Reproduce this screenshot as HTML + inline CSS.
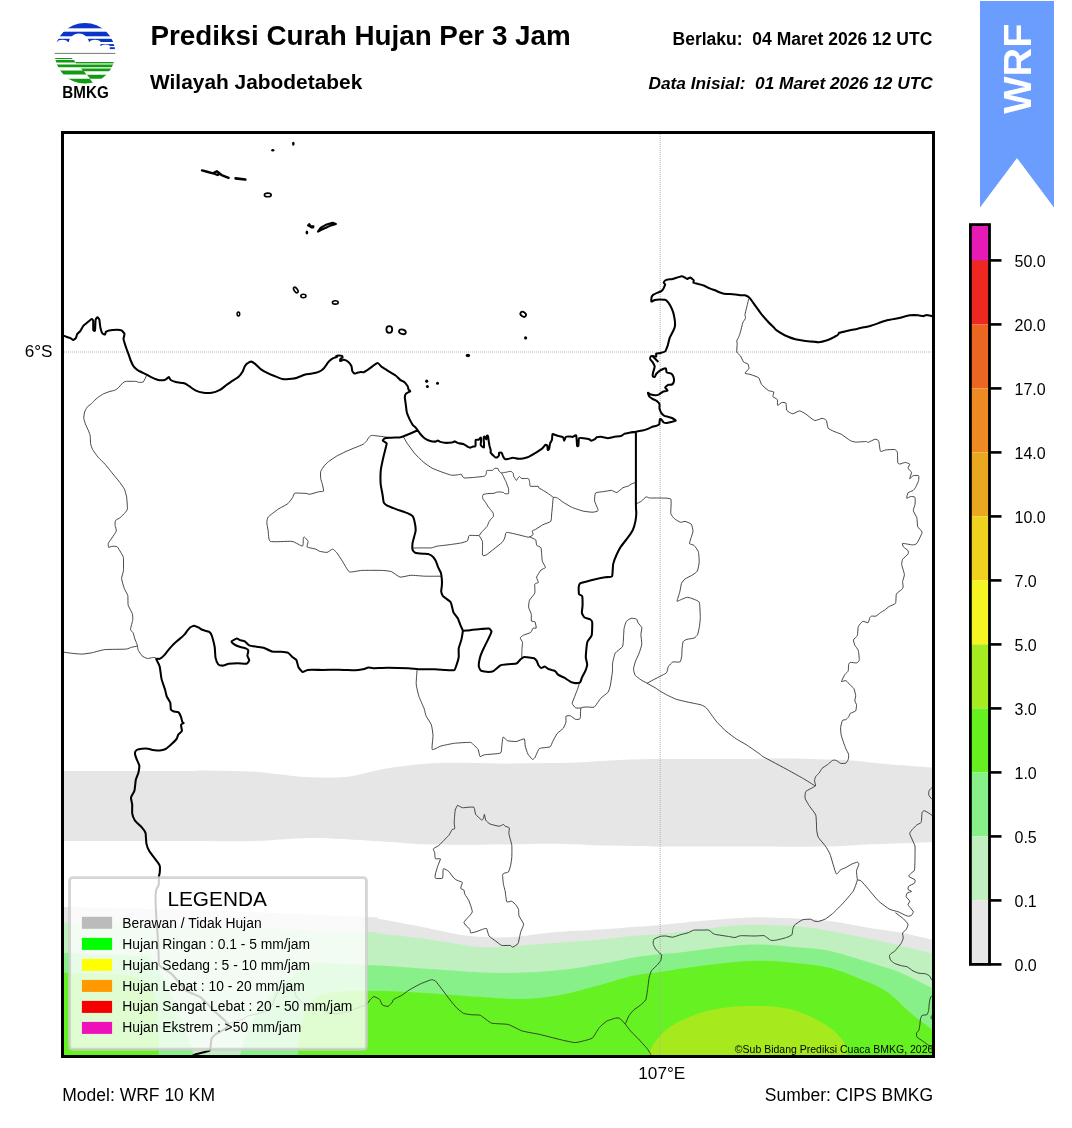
<!DOCTYPE html>
<html><head><meta charset="utf-8"><style>
html,body{margin:0;padding:0;background:#fff;width:1072px;height:1128px;overflow:hidden}
svg{display:block;position:absolute;left:0;top:0;will-change:transform}
text{font-family:"Liberation Sans",sans-serif}
</style></head><body>
<svg width="1072" height="1128" viewBox="0 0 1072 1128">
<defs>
<clipPath id="mc"><rect x="64" y="134" width="868" height="921"/></clipPath>
<clipPath id="lc"><circle cx="85" cy="53.2" r="30.3"/></clipPath>
</defs>

<!-- header -->
<g clip-path="url(#lc)">
<rect x="50" y="20" width="70" height="70" fill="#fff"/>
<g fill="#0a35c8">
<rect x="50" y="20" width="70" height="8.3"/>
<rect x="50" y="31.7" width="70" height="4.6"/>
<rect x="50" y="38.8" width="70" height="3.2"/>
</g>
<g fill="#fff">
<path d="M68.5 42.5 Q71 33.6 79 33.6 Q86.5 33.6 89.3 42.5 Z"/>
<rect x="50" y="42" width="70" height="11"/>
<ellipse cx="62.5" cy="42.3" rx="5.2" ry="2.6"/>
<ellipse cx="95" cy="42.3" rx="5.6" ry="2.6"/>
</g>
<g fill="#0a35c8">
<rect x="100.5" y="44.1" width="20" height="1.9"/>
<rect x="109.8" y="47.2" width="10" height="1.9"/>
</g>
<ellipse cx="105.5" cy="46.4" rx="4.3" ry="1.9" fill="#fff"/>
<rect x="50" y="52.9" width="70" height="1" fill="#777"/>
<g fill="#139a13">
<path d="M50 57.9H71.5L72.6 59.1H50Z"/>
<path d="M50 60.1H73.8L75.8 62.5H50Z"/>
<path d="M75.2 61.9H120V63.3H76.4Z"/>
<path d="M50 64.5H120V67.3H50Z"/>
<path d="M81 68.5H120V71.3H83.4Z"/>
<path d="M50 70.4H83.2L86.6 74.6H50Z"/>
<path d="M86.9 74.7H120V78.7H90.3Z"/>
<path d="M50 78.7H89.8L94.2 84.5H50Z"/>
</g>
<rect x="76" y="63.3" width="40" height="1.1" fill="#8fd08f"/>
</g>
<text x="62.3" y="97.8" font-size="16.4" font-weight="bold" textLength="46.4" lengthAdjust="spacingAndGlyphs">BMKG</text>

<text x="150.5" y="44.8" font-size="27.8" font-weight="bold">Prediksi Curah Hujan Per 3 Jam</text>
<text x="150" y="88.9" font-size="20.9" font-weight="bold">Wilayah Jabodetabek</text>
<text x="932.3" y="44.5" font-size="17.5" font-weight="bold" text-anchor="end" xml:space="preserve">Berlaku:  04 Maret 2026 12 UTC</text>
<text x="932.8" y="88.8" font-size="17.3" font-weight="bold" font-style="italic" text-anchor="end" xml:space="preserve">Data Inisial:  01 Maret 2026 12 UTC</text>

<!-- ribbon -->
<path d="M980 1 H1054 V207.5 L1017 158 L980 207.5 Z" fill="#6a9dfe"/>
<text transform="translate(1031 113.8) rotate(-90)" font-size="39.6" font-weight="bold" fill="#fff">WRF</text>

<!-- map -->
<g clip-path="url(#mc)">
<path fill="#e6e6e6" d="M58.0 771.0C78.3 771.0 155.7 771.1 180.0 771.0C204.3 770.9 191.8 770.3 204.0 770.4C216.2 770.5 240.8 771.0 253.0 771.6C265.2 772.2 268.2 773.1 277.0 774.0C285.8 774.9 294.7 776.5 306.0 777.0C317.3 777.5 333.7 778.0 345.0 777.0C356.3 776.0 365.2 772.7 374.0 771.0C382.8 769.3 387.0 768.0 398.0 766.7C409.0 765.4 423.0 763.5 440.0 763.0C457.0 762.5 478.3 763.4 500.0 763.4C521.7 763.4 552.5 763.1 570.0 762.7C587.5 762.3 592.7 761.4 605.0 760.8C617.3 760.2 620.8 759.5 644.0 759.2C667.2 758.9 720.0 759.1 744.0 759.0C768.0 758.9 770.3 758.4 788.0 758.6C805.7 758.8 833.7 759.5 850.0 760.4C866.3 761.3 871.3 762.7 886.0 764.0C900.7 765.3 929.3 767.3 938.0 768.0L938.0 842.0C926.3 842.4 887.0 843.6 868.0 844.4C849.0 845.2 843.0 846.2 824.0 846.6C805.0 847.0 781.6 846.5 754.0 846.5C726.4 846.5 683.2 846.6 658.5 846.5C633.8 846.4 623.4 846.1 606.0 845.6C588.6 845.1 571.7 843.9 554.0 843.7C536.3 843.5 520.7 844.5 500.0 844.6C479.3 844.8 450.0 845.2 430.0 844.6C410.0 844.0 396.7 842.3 380.0 841.3C363.3 840.3 343.3 839.0 330.0 838.5C316.7 838.0 312.7 837.9 300.0 838.3C287.3 838.7 274.0 840.5 254.0 841.0C234.0 841.5 212.7 841.0 180.0 841.0C147.3 841.0 78.3 841.0 58.0 841.0Z"/>
<path fill="#e6e6e6" d="M58.0 907.0C73.3 907.3 118.0 908.2 150.0 909.0C182.0 909.8 213.7 910.7 250.0 912.0C286.3 913.3 346.3 915.8 368.0 917.0C389.7 918.2 371.0 917.4 380.0 919.0C389.0 920.6 408.0 924.2 422.0 926.9C436.0 929.6 452.7 933.6 464.0 935.3C475.3 937.0 481.7 936.9 490.0 937.2C498.3 937.5 503.3 937.8 514.0 937.0C524.7 936.2 539.7 933.5 554.0 932.3C568.3 931.0 586.7 930.4 600.0 929.5C613.3 928.6 624.2 927.7 634.0 927.0C643.8 926.3 647.5 926.2 658.5 925.2C669.5 924.2 684.8 922.3 700.0 921.0C715.2 919.7 735.0 917.9 750.0 917.4C765.0 916.9 776.7 917.7 790.0 918.3C803.3 918.9 817.0 919.4 830.0 921.0C843.0 922.6 856.3 925.8 868.0 927.7C879.7 929.6 888.3 930.3 900.0 932.5C911.7 934.7 931.7 939.6 938.0 941.0L938.0 1062.0L58.0 1062.0Z"/>
<path fill="#c0f0c0" d="M58.0 922.5C73.3 922.9 118.0 924.1 150.0 925.0C182.0 925.9 213.7 926.8 250.0 928.0C286.3 929.2 346.3 931.1 368.0 932.0C389.7 932.9 369.7 932.4 380.0 933.6C390.3 934.9 413.2 937.3 430.0 939.5C446.8 941.7 465.2 946.0 480.7 947.0C496.1 948.0 510.5 946.0 522.7 945.4C534.9 944.8 541.1 944.1 554.0 943.1C566.9 942.1 586.7 940.7 600.0 939.5C613.3 938.3 624.2 936.7 634.0 935.8C643.8 934.9 647.5 935.2 658.5 934.2C669.5 933.2 685.8 931.0 700.0 929.5C714.2 928.0 727.8 925.6 744.0 925.1C760.2 924.6 782.7 925.3 797.0 926.3C811.3 927.3 818.2 929.0 830.0 931.0C841.8 933.0 856.3 936.0 868.0 938.4C879.7 940.8 888.3 942.7 900.0 945.5C911.7 948.3 931.7 953.4 938.0 955.0L938.0 1062.0L58.0 1062.0Z"/>
<path fill="#88f088" d="M58.0 952.5C73.3 953.1 118.0 954.8 150.0 956.0C182.0 957.2 213.7 958.5 250.0 960.0C286.3 961.5 338.0 963.5 368.0 965.0C398.0 966.5 408.0 967.7 430.0 969.0C452.0 970.3 478.3 972.8 500.0 973.0C521.7 973.2 543.3 971.5 560.0 970.0C576.7 968.5 587.7 966.1 600.0 964.0C612.3 961.9 624.0 959.1 634.0 957.4C644.0 955.7 651.6 954.9 660.0 954.0C668.4 953.1 669.6 953.5 684.6 951.9C699.6 950.3 731.3 945.4 750.0 944.6C768.7 943.8 783.7 946.1 797.0 947.2C810.3 948.3 816.8 948.1 830.0 951.0C843.2 953.9 864.3 961.0 876.0 964.6C887.7 968.2 889.7 968.1 900.0 972.5C910.3 976.9 931.7 987.9 938.0 991.0L938.0 1062.0L58.0 1062.0Z"/>
<path fill="#c0f0c0" d="M140 950 C165 968 176 1005 195.5 1060 L239 1060 C246 1025 262 990 320 960 Z"/>
<path fill="#66f222" d="M298.0 1062.0C298.3 1056.7 297.7 1040.3 300.0 1030.0C302.3 1019.7 306.2 1006.3 312.0 1000.0C317.8 993.7 325.7 993.5 335.0 992.0C344.3 990.5 357.2 991.1 368.0 991.0C378.8 990.9 384.7 990.8 400.0 991.5C415.3 992.2 440.0 994.2 460.0 995.5C480.0 996.8 503.3 999.1 520.0 999.0C536.7 998.9 546.7 997.3 560.0 995.0C573.3 992.7 587.7 988.2 600.0 985.0C612.3 981.8 624.0 977.8 634.0 975.6C644.0 973.4 649.0 973.6 660.0 972.0C671.0 970.4 685.0 967.8 700.0 966.0C715.0 964.2 735.0 961.6 750.0 961.0C765.0 960.4 776.7 961.3 790.0 962.5C803.3 963.7 817.6 965.0 830.0 968.0C842.4 971.0 855.0 976.7 864.6 980.7C874.2 984.8 879.9 986.9 887.6 992.3C895.3 997.7 902.3 1006.0 910.7 1013.0C919.1 1020.0 933.5 1030.5 938.0 1034.0L938 1062ZM58.0 972.5C66.7 972.8 97.2 973.8 110.0 974.5C122.8 975.2 128.3 975.2 135.0 977.0C141.7 978.8 146.3 979.5 150.0 985.0C153.7 990.5 155.5 997.2 157.0 1010.0C158.5 1022.8 158.7 1053.3 159.0 1062.0L58 1062Z"/>
<path fill="#a6ea1e" d="M648.5 1060.0C648.8 1058.3 648.8 1053.8 650.5 1050.0C652.2 1046.2 655.3 1041.0 658.9 1037.0C662.5 1033.0 666.6 1029.2 671.9 1025.8C677.2 1022.4 684.4 1019.0 690.6 1016.5C696.8 1014.0 703.1 1012.1 709.3 1010.6C715.5 1009.1 721.1 1008.0 727.9 1007.2C734.7 1006.5 743.3 1006.2 750.0 1006.1C756.7 1006.0 762.2 1005.9 768.0 1006.3C773.8 1006.6 780.1 1007.5 784.8 1008.2C789.5 1008.9 792.3 1009.6 796.0 1010.7C799.7 1011.9 803.5 1013.4 807.2 1015.1C810.9 1016.8 814.7 1018.6 818.4 1020.7C822.1 1022.8 826.4 1025.2 829.6 1027.5C832.8 1029.8 835.2 1032.0 837.4 1034.2C839.6 1036.4 841.6 1038.7 843.0 1040.9C844.4 1043.1 845.1 1045.4 845.8 1047.6C846.4 1049.8 846.7 1052.2 846.9 1054.3C847.1 1056.4 847.2 1059.0 847.2 1060.0Z"/>
<g fill="none" stroke="#aaa" stroke-width="0.9" stroke-dasharray="1 1">
<line x1="64" y1="352" x2="932" y2="352"/>
<line x1="660.2" y1="134" x2="660.2" y2="1055"/>
</g>
<path d="M147.1 374.9C147.0 375.0 146.8 375.0 146.5 375.6C146.2 376.2 144.0 381.3 143.3 381.9C142.6 382.5 139.1 382.4 138.5 382.4C137.9 382.4 137.3 381.5 136.2 381.4C135.1 381.3 126.9 381.3 125.8 381.4C124.7 381.5 123.4 382.4 122.7 383.0C122.0 383.6 118.6 387.6 117.9 388.2C117.2 388.8 115.4 390.0 114.7 390.3C114.0 390.6 110.9 391.1 110.0 391.4C109.1 391.7 104.6 393.3 103.6 393.8C102.6 394.3 98.9 396.7 98.1 397.3C97.3 397.9 94.7 400.3 94.1 400.9C93.5 401.5 91.6 403.6 91.0 404.1C90.4 404.6 87.5 406.6 87.0 407.3C86.5 408.0 84.9 411.1 84.6 412.0C84.3 412.9 83.7 417.4 83.8 418.4C83.9 419.4 85.0 422.8 85.4 423.9C85.8 425.0 88.2 430.1 88.6 431.1C89.0 432.1 90.0 434.8 90.2 435.8C90.4 436.9 90.4 442.6 90.6 443.7C90.8 444.8 91.9 448.2 92.5 449.3C93.1 450.4 97.0 455.9 98.1 457.2C99.2 458.5 104.1 463.1 105.2 464.4C106.3 465.7 110.5 470.9 111.6 472.3C112.7 473.7 117.6 479.6 118.7 481.0C119.8 482.4 123.6 487.6 124.3 488.9C125.0 490.2 126.3 495.2 126.6 496.9C126.9 498.6 127.5 507.5 127.4 508.8C127.3 510.1 125.7 512.0 125.1 512.7C124.5 513.4 121.1 516.8 120.3 517.5C119.5 518.2 115.9 519.9 115.5 520.6C115.1 521.3 115.0 524.5 115.1 525.4C115.2 526.3 116.6 530.0 116.3 531.0C116.0 532.0 112.6 537.0 111.9 538.0C111.2 539.0 108.6 542.5 108.3 543.3C108.0 544.1 108.4 547.1 108.7 547.4C109.0 547.6 111.2 546.3 111.9 546.3C112.6 546.2 116.5 546.3 117.2 546.8C117.9 547.3 120.2 551.3 120.7 552.2C121.2 553.1 123.2 556.0 123.4 557.5C123.6 559.0 123.6 569.0 123.4 570.8C123.2 572.6 121.5 577.2 121.6 578.7C121.7 580.2 123.8 587.1 124.3 588.5C124.8 589.9 127.5 594.2 127.8 595.6C128.1 597.0 127.8 603.8 128.2 605.3C128.6 606.8 131.8 612.1 132.2 613.3C132.6 614.5 132.9 618.2 132.8 619.5C132.7 620.8 130.5 628.2 130.5 629.3C130.5 630.4 132.7 632.0 133.1 632.8C133.5 633.6 134.6 638.1 134.9 639.0C135.2 639.9 136.5 642.7 136.7 643.4C136.9 644.1 137.5 646.4 137.6 647.0C137.7 647.6 138.0 649.8 138.4 650.5C138.8 651.2 141.3 655.1 142.0 655.8C142.7 656.5 146.4 658.4 147.3 658.5C148.2 658.6 151.9 657.7 152.6 657.6C153.3 657.5 155.0 657.5 155.3 657.6C155.6 657.7 156.1 658.9 156.2 659.0M62.0 652.0C62.8 652.1 69.5 653.0 71.1 653.2C72.7 653.4 79.9 654.1 81.7 654.1C83.5 654.1 90.5 653.1 92.4 652.7C94.3 652.3 102.0 649.9 104.8 649.6C107.6 649.3 123.8 649.3 126.0 649.1C128.2 648.9 130.4 647.5 131.4 647.3C132.4 647.0 137.1 646.2 137.6 646.1M390.9 437.7C389.4 437.5 374.2 435.5 372.4 435.4C370.6 435.3 369.6 436.6 369.1 437.0C368.6 437.4 367.3 440.1 366.8 440.7C366.3 441.3 364.3 443.6 363.3 444.2C362.3 444.8 356.4 447.1 354.9 447.7C353.4 448.3 346.6 451.2 345.1 451.9C343.6 452.6 338.1 455.3 336.7 456.1C335.3 456.9 329.4 460.9 328.4 461.7C327.4 462.5 324.8 465.1 324.2 465.9C323.6 466.7 321.0 470.4 320.7 471.5C320.4 472.6 320.6 477.4 320.7 478.5C320.8 479.6 322.3 483.8 322.5 484.8C322.7 485.9 323.8 490.5 323.5 491.1C323.2 491.7 319.8 491.5 318.6 491.8C317.4 492.1 310.6 494.2 309.5 494.3C308.4 494.4 307.2 493.5 306.0 493.4C304.8 493.3 295.9 492.9 294.8 493.2C293.7 493.5 293.3 496.5 292.7 497.4C292.1 498.3 289.0 502.7 287.8 503.7C286.6 504.7 279.6 508.2 278.0 509.3C276.4 510.4 269.1 515.9 268.2 517.0C267.3 518.1 266.8 521.4 266.8 522.6C266.8 523.8 267.9 529.3 268.2 530.9C268.5 532.5 268.3 540.5 270.3 541.4C272.3 542.3 289.3 541.0 292.0 541.4C294.7 541.8 301.6 546.4 302.5 546.1C303.4 545.8 303.2 538.6 303.4 537.9C303.6 537.2 304.2 536.9 304.6 537.2C305.0 537.5 307.9 540.6 308.1 541.4C308.3 542.2 306.5 546.4 307.1 547.0C307.7 547.6 314.8 548.8 315.8 549.1C316.8 549.5 318.4 550.9 319.3 551.2C320.2 551.5 325.9 552.6 327.0 552.4C328.1 552.2 331.8 549.1 332.6 549.1C333.4 549.1 335.9 551.6 336.7 552.6C337.5 553.6 341.2 559.4 342.3 561.0C343.4 562.6 347.7 571.0 349.3 571.8C350.9 572.6 359.2 570.5 361.9 570.4C364.6 570.3 379.1 570.3 381.5 570.4C383.9 570.5 389.8 571.0 391.3 571.6C392.9 572.2 398.5 576.8 400.1 577.1C401.7 577.4 408.7 575.4 410.8 575.3C412.9 575.2 422.4 576.1 424.9 576.2C427.4 576.3 439.6 576.2 440.9 576.2M403.5 437.0C403.8 437.5 406.3 442.0 407.2 443.3C408.1 444.6 413.0 451.4 414.3 453.0C415.6 454.6 421.7 460.6 423.2 461.9C424.7 463.2 430.5 467.3 432.0 468.1C433.5 468.9 439.3 471.1 440.9 471.7C442.5 472.3 450.0 474.9 451.5 475.2C453.0 475.4 457.8 474.8 458.6 474.7C459.4 474.6 460.9 474.0 461.3 474.3C461.7 474.6 462.9 477.6 463.9 477.9C464.9 478.2 471.5 477.6 472.8 477.5C474.1 477.4 479.0 476.9 480.0 476.8C481.0 476.7 484.0 476.4 484.5 476.2C485.0 476.0 486.0 474.4 486.2 474.0C486.4 473.6 486.3 471.5 486.4 471.2C486.5 470.9 486.8 470.5 487.3 470.4C487.8 470.3 491.7 470.6 492.3 470.4C492.9 470.2 494.0 468.6 494.5 468.4C495.0 468.2 497.6 468.3 497.9 468.4C498.2 468.5 498.4 469.8 498.5 470.1C498.6 470.4 499.4 471.6 499.6 471.8C499.8 472.0 501.1 472.7 501.3 472.9C501.5 473.1 502.1 474.0 502.4 474.5C502.7 475.0 504.3 478.3 504.6 479.0C504.9 479.7 506.1 481.8 506.3 482.4C506.5 483.0 507.2 485.2 507.4 485.7C507.6 486.2 508.4 487.8 508.5 488.5C508.6 489.2 508.8 493.2 508.5 493.6C508.2 494.0 505.0 493.7 504.6 493.6C504.2 493.5 503.9 492.6 503.5 492.5C503.1 492.4 500.2 491.9 499.6 491.9C499.0 491.9 496.7 492.2 496.2 492.3C495.7 492.4 494.7 493.2 494.0 493.3C493.3 493.4 488.7 493.5 487.8 493.6C486.9 493.7 483.8 494.2 483.4 494.4C483.0 494.6 482.5 496.0 482.5 496.4C482.5 496.8 482.8 498.7 483.1 499.2C483.4 499.7 485.2 501.9 485.6 502.5C486.0 503.1 487.9 506.3 488.4 507.0C488.9 507.7 490.8 509.9 491.2 510.4C491.6 510.9 493.0 512.7 493.2 513.2C493.4 513.7 493.6 516.0 493.4 516.5C493.2 517.0 491.6 518.3 491.2 518.8C490.8 519.3 489.2 521.6 488.8 522.2C488.4 522.9 487.6 525.8 487.0 526.6C486.4 527.4 482.4 531.2 481.7 531.9C481.0 532.6 480.0 535.2 479.0 535.5C478.0 535.8 470.3 535.1 469.3 535.5C468.3 535.9 468.2 540.2 467.5 540.8C466.8 541.4 462.0 542.8 460.4 543.1C458.8 543.4 449.9 544.6 448.0 544.9C446.1 545.1 438.8 545.9 437.4 546.1C436.0 546.4 432.3 547.8 431.1 547.9C429.9 548.0 424.7 547.9 423.2 547.9C421.7 547.9 413.9 548.0 413.0 548.0M479.0 535.5C479.3 536.0 482.2 540.1 482.5 541.7C482.8 543.3 482.2 553.9 482.5 555.0C482.8 556.1 485.1 555.5 486.1 555.0C487.1 554.5 492.8 549.8 494.1 548.8C495.4 547.8 501.1 543.4 502.0 542.5C502.9 541.6 504.3 538.9 504.7 538.1C505.1 537.3 505.3 532.7 506.5 532.4C507.7 532.1 517.1 534.5 518.9 534.9C520.7 535.3 527.4 537.2 528.6 537.2C529.8 537.2 532.8 535.1 533.1 534.6C533.4 534.1 532.0 531.4 532.2 531.0C532.4 530.6 534.8 529.8 535.7 529.3C536.6 528.8 541.5 525.5 542.8 524.8C544.1 524.1 550.1 522.3 550.8 521.3C551.5 520.3 551.6 514.7 551.7 513.3C551.9 511.9 552.5 505.7 552.6 504.4C552.7 503.1 553.0 497.9 553.4 497.4C553.8 496.9 556.6 497.6 557.4 498.0C558.2 498.4 561.5 501.1 562.7 501.9C563.9 502.7 569.9 506.4 571.6 507.2C573.3 508.0 581.3 510.7 583.1 511.1C584.9 511.5 591.6 512.3 592.9 512.2C594.2 512.1 598.1 511.3 598.2 510.4C598.3 509.5 594.8 502.4 594.6 501.0C594.4 499.6 594.8 493.8 595.5 493.0C596.2 492.2 602.2 491.8 603.5 491.6C604.8 491.4 610.4 490.3 611.5 490.4C612.6 490.5 615.8 492.7 616.8 492.5C617.8 492.3 622.0 488.2 623.0 487.7C624.0 487.2 627.6 486.3 628.3 486.0C629.0 485.7 631.2 484.1 631.8 483.8C632.4 483.5 635.6 482.5 635.9 482.4M501.3 472.9C501.5 472.9 503.0 472.7 503.5 472.6C504.0 472.5 507.0 472.1 507.4 472.0C507.8 471.9 508.2 471.5 508.5 471.5C508.8 471.5 510.9 471.3 511.3 471.5C511.7 471.7 513.1 473.0 513.3 473.4C513.5 473.8 513.5 475.8 513.6 476.2C513.7 476.6 514.8 478.1 515.0 478.5C515.2 478.9 516.1 480.4 516.4 480.4C516.7 480.3 517.8 478.2 518.1 477.9C518.4 477.6 519.2 476.5 519.5 476.5C519.8 476.5 521.0 478.2 521.4 478.4C521.8 478.6 524.2 478.5 524.8 478.5C525.4 478.5 527.7 478.4 528.1 478.5C528.5 478.6 529.1 479.5 529.2 479.9C529.3 480.3 529.7 483.0 529.8 483.5C529.9 484.0 529.7 486.1 530.4 486.3C531.1 486.5 537.5 486.2 538.2 486.3C538.9 486.4 538.6 487.8 538.8 488.0C538.9 488.2 539.3 488.1 540.0 488.5C540.7 488.9 546.1 492.2 547.2 492.9C548.3 493.6 552.9 497.0 553.4 497.4M529.5 536.8C530.0 537.1 535.1 539.2 535.7 539.9C536.3 540.6 536.2 544.5 536.6 545.2C537.0 545.9 540.5 546.6 541.0 547.9C541.5 549.2 541.9 559.6 542.3 561.2C542.7 562.8 545.6 566.7 545.5 567.4C545.4 568.1 541.7 569.2 541.0 570.0C540.3 570.8 536.8 576.1 536.6 577.1C536.4 578.1 538.5 581.8 538.4 582.4C538.2 583.0 535.1 583.3 534.8 584.2C534.5 585.1 535.2 591.8 534.8 593.1C534.4 594.4 530.0 599.0 529.5 600.2C529.0 601.4 528.5 606.0 528.6 607.2C528.8 608.4 531.1 613.1 531.3 614.3C531.5 615.4 531.1 620.4 531.4 621.0C531.7 621.6 534.6 621.3 535.0 621.9C535.4 622.5 536.4 627.6 536.2 628.1C536.1 628.6 533.7 627.7 533.2 628.1C532.7 628.5 531.3 631.9 530.5 632.5C529.7 633.1 524.3 634.8 523.4 635.2C522.5 635.7 520.3 637.3 520.2 637.9C520.1 638.5 522.4 641.4 522.5 642.3C522.6 643.2 522.1 647.2 522.0 648.5C521.9 649.8 521.7 656.7 521.7 657.4M635.9 504.0C636.4 503.8 640.8 501.6 641.6 501.0C642.4 500.4 645.3 497.1 646.0 496.9C646.7 496.6 648.4 497.9 649.6 498.0C650.8 498.1 658.4 497.9 660.2 498.0C662.0 498.1 669.9 497.9 670.8 499.2C671.7 500.5 670.5 511.8 670.8 513.4C671.1 515.0 673.6 518.0 674.4 518.7C675.2 519.4 679.7 522.1 680.6 522.3C681.5 522.5 684.1 521.2 685.0 521.4C685.9 521.5 690.5 523.3 691.2 524.1C691.9 524.9 693.0 530.0 693.0 531.1C693.0 532.2 691.5 536.4 691.2 537.4C690.9 538.4 689.3 542.9 689.5 543.6C689.7 544.3 693.2 544.6 693.9 545.3C694.6 546.0 697.9 550.1 698.3 551.5C698.7 552.9 699.3 560.6 699.2 562.2C699.1 563.8 697.9 570.0 697.4 571.0C696.9 572.0 694.0 573.9 693.0 574.6C692.0 575.3 686.0 578.3 685.0 579.0C684.0 579.7 681.9 582.3 681.5 583.4C681.1 584.5 680.1 590.8 679.7 592.3C679.3 593.8 676.9 600.6 677.0 601.2C677.1 601.8 680.6 599.7 681.5 599.4C682.4 599.1 686.5 597.2 687.7 597.3C688.9 597.3 694.8 599.5 695.8 600.0C696.8 600.5 699.0 601.2 699.4 602.7C699.8 604.2 700.3 615.7 700.3 617.7C700.3 619.7 699.6 625.2 699.4 626.6C699.2 628.0 698.0 633.6 697.6 634.6C697.2 635.6 695.0 637.7 694.1 638.1C693.2 638.5 687.9 639.0 687.0 639.3C686.1 639.6 683.5 640.8 683.1 641.7C682.7 642.6 682.1 648.4 682.0 649.6C681.9 650.9 681.9 655.7 681.7 656.7C681.5 657.7 680.6 661.6 679.9 662.0C679.2 662.4 673.8 661.6 672.8 662.0C671.8 662.4 668.9 665.6 668.4 666.5C667.9 667.4 667.1 672.0 666.6 672.7C666.1 673.4 663.3 674.7 662.2 675.3C661.1 675.9 654.6 679.1 653.3 679.8C652.0 680.5 647.6 683.0 647.1 683.3M417.1 669.8C417.0 671.0 416.1 681.7 416.2 683.9C416.3 686.1 418.2 694.2 418.9 696.3C419.6 698.4 423.6 707.2 424.2 708.8C424.8 710.4 425.4 714.5 426.0 715.8C426.6 717.1 430.7 723.1 431.3 724.7C431.9 726.3 432.9 733.2 433.0 735.3C433.1 737.4 431.5 748.6 432.2 749.5C432.9 750.4 439.2 746.5 441.0 746.0C442.8 745.5 451.9 743.6 454.3 743.3C456.7 743.0 468.7 742.2 470.3 742.4C471.9 742.5 473.1 744.5 473.8 745.1C474.5 745.7 477.7 748.5 478.2 749.5C478.7 750.5 479.5 756.2 480.0 756.6C480.5 757.0 482.7 755.1 484.4 754.8C486.1 754.5 498.9 753.8 500.4 753.1C501.8 752.4 501.6 747.3 501.8 746.0C502.0 744.7 502.6 737.5 503.1 737.1C503.6 736.7 506.4 740.3 507.5 740.7C508.6 741.1 514.9 741.6 516.3 741.5C517.7 741.4 523.6 738.5 524.3 738.9C525.0 739.3 524.9 744.7 525.2 746.0C525.5 747.3 527.3 752.9 527.9 754.0C528.5 755.1 531.7 759.0 532.3 759.3C532.9 759.6 534.4 758.4 535.0 757.5C535.6 756.6 538.1 749.5 539.4 748.6C540.6 747.7 548.9 747.5 550.0 746.9C551.1 746.3 552.1 742.6 552.7 741.5C553.3 740.4 556.2 734.7 557.1 733.6C558.0 732.5 562.6 729.2 563.3 728.2C564.0 727.2 565.8 723.0 566.0 722.0C566.2 721.0 565.6 716.7 566.0 716.2C566.4 715.7 569.6 715.5 570.4 715.8C571.2 716.1 574.9 719.2 575.7 719.4C576.5 719.6 579.8 719.5 580.2 718.5C580.6 717.5 580.4 709.0 581.0 708.0C581.6 707.0 586.1 707.1 587.2 707.0C588.3 706.9 593.1 707.8 594.3 707.0C595.4 706.2 599.9 699.2 601.0 698.0C602.1 696.8 607.3 693.3 608.1 692.2C608.9 691.1 610.0 686.9 610.4 685.1C610.8 683.3 612.3 672.7 612.5 670.9C612.7 669.1 612.3 665.3 612.5 663.8C612.7 662.3 614.4 654.6 615.2 653.2C616.0 651.8 621.6 647.9 622.3 647.0C623.0 646.1 623.1 644.0 623.2 642.5C623.4 641.0 623.8 630.2 624.1 628.4C624.4 626.6 625.8 622.1 626.4 621.3C627.0 620.5 630.3 618.5 631.1 618.3C631.9 618.1 635.9 618.7 636.5 619.1C637.1 619.5 637.8 622.3 638.2 623.0C638.6 623.7 641.6 626.5 641.8 627.5C642.0 628.5 640.9 633.2 640.9 634.6C640.9 636.0 641.9 642.8 641.8 644.3C641.6 645.8 639.6 651.8 639.1 653.2C638.6 654.6 636.1 659.8 635.6 661.1C635.1 662.4 633.5 667.9 633.5 669.1C633.5 670.3 634.6 674.4 635.2 675.3C635.8 676.2 639.9 679.1 640.9 679.8C641.9 680.5 645.9 682.6 647.1 683.3C648.3 684.0 654.0 687.0 655.1 687.7C656.2 688.4 659.4 690.7 660.4 691.3C661.4 691.9 665.3 694.1 666.6 694.8C667.9 695.5 674.6 698.7 676.3 699.3C678.0 699.9 684.9 701.4 687.0 701.9C689.1 702.4 699.6 704.4 701.2 704.9C702.8 705.4 705.6 707.2 706.5 708.1C707.4 709.0 710.9 714.0 711.8 715.2C712.7 716.4 715.9 721.0 717.1 722.3C718.3 723.6 724.4 729.8 726.0 731.2C727.6 732.6 734.8 737.9 736.6 739.1C738.4 740.3 745.2 744.0 747.2 745.3C749.2 746.6 758.6 753.2 760.0 754.2C761.4 755.2 761.1 755.6 763.5 756.9C765.9 758.2 785.0 768.4 788.3 770.2C791.5 772.0 800.2 776.8 802.5 778.1C804.8 779.4 814.2 785.3 815.3 786.0M581.0 708.0C580.6 708.0 576.4 708.3 575.7 707.9C575.0 707.5 572.3 704.4 572.2 703.4C572.1 702.4 574.4 697.5 574.8 696.3C575.2 695.1 577.1 690.4 577.5 689.3C577.9 688.2 579.3 683.3 579.5 682.8M748.8 298.6C748.6 299.4 746.9 306.4 746.6 307.7C746.3 309.0 745.1 313.5 745.0 314.4C744.9 315.3 745.7 317.5 745.5 318.2C745.3 318.9 743.2 321.6 742.8 322.7C742.4 323.8 740.8 330.7 740.5 331.8C740.2 332.9 739.3 335.6 739.0 336.3C738.7 337.1 736.9 340.2 736.8 340.8C736.6 341.4 737.2 342.9 737.2 343.8C737.2 344.7 736.5 351.1 736.8 352.1C737.1 353.1 739.9 355.1 740.5 355.9C741.1 356.7 742.9 361.2 743.5 361.9C744.1 362.6 747.7 363.6 748.1 364.2C748.5 364.8 749.1 367.9 748.8 368.7C748.5 369.4 744.8 372.7 745.0 373.2C745.2 373.7 750.0 374.3 751.1 374.7C752.2 375.1 757.7 376.9 758.6 377.7C759.5 378.5 760.8 383.4 761.6 384.5C762.4 385.6 767.4 389.9 768.4 390.5C769.4 391.1 773.3 391.5 773.7 392.0C774.1 392.5 772.6 396.0 772.9 396.6C773.2 397.2 777.0 398.9 777.4 399.6C777.8 400.3 777.2 405.1 777.6 405.3C778.0 405.5 781.1 402.7 781.8 402.5C782.5 402.3 785.6 402.5 786.0 403.2C786.4 403.9 786.2 409.5 786.8 410.4C787.4 411.3 791.6 413.8 792.7 413.8C793.8 413.8 798.4 410.9 799.5 410.9C800.6 410.9 804.1 413.0 805.4 413.8C806.7 414.6 813.2 420.1 814.6 420.5C816.0 420.9 821.2 418.3 822.2 418.3C823.2 418.3 825.9 419.7 826.4 420.5C826.9 421.3 827.5 427.2 828.1 428.1C828.7 429.0 832.9 430.9 834.0 431.4C835.1 431.9 840.1 433.6 841.5 434.4C842.9 435.2 849.1 440.0 850.3 440.6C851.5 441.2 854.4 442.0 855.7 442.1C857.0 442.2 865.3 441.5 866.3 441.5C867.3 441.5 867.4 442.6 868.1 442.4C868.8 442.2 874.3 439.3 875.2 439.2C876.1 439.1 878.3 440.0 878.7 441.0C879.1 442.0 879.9 450.6 880.5 451.3C881.1 452.0 884.6 450.0 885.8 449.9C887.0 449.8 893.7 449.3 894.7 449.5C895.7 449.7 897.0 451.1 897.3 452.2C897.6 453.3 897.6 461.8 897.8 462.8C898.0 463.8 899.4 464.0 900.0 464.0C900.6 464.0 904.5 462.4 905.3 462.4C906.1 462.4 909.5 463.7 909.7 464.2C909.9 464.7 907.9 467.4 908.0 468.1C908.1 468.8 911.4 471.6 911.5 472.5C911.6 473.4 909.6 478.4 909.7 478.7C909.9 479.0 912.6 475.9 913.3 475.7C914.0 475.4 918.2 475.3 918.6 475.7C919.0 476.1 918.8 479.6 918.6 480.5C918.4 481.4 916.3 485.9 915.9 486.7C915.5 487.5 914.0 489.8 913.3 490.3C912.6 490.8 908.5 492.2 908.0 492.9C907.5 493.6 906.5 497.9 906.7 498.2C906.9 498.5 909.9 496.6 910.6 496.5C911.3 496.4 914.6 496.7 915.0 497.4C915.4 498.1 915.1 503.3 915.0 504.4C914.9 505.5 913.1 509.5 913.3 510.6C913.4 511.7 916.4 516.4 916.8 517.7C917.2 519.0 917.3 525.4 917.7 526.6C918.1 527.8 922.2 531.0 922.1 532.4C922.0 533.8 917.6 542.4 916.8 543.4C916.0 544.4 913.6 544.9 912.4 544.9C911.2 544.9 903.3 543.2 902.6 543.4C901.9 543.6 903.0 546.4 903.5 547.0C904.0 547.6 907.6 549.9 908.0 550.5C908.4 551.1 908.5 553.4 908.0 554.1C907.5 554.8 903.1 558.5 902.6 559.4C902.1 560.3 901.6 563.4 901.7 564.7C901.9 566.0 904.3 573.1 904.4 574.5C904.5 575.9 902.7 580.5 902.6 581.5C902.5 582.5 903.3 586.2 903.2 586.9C903.1 587.6 902.3 588.9 901.7 589.5C901.1 590.1 896.9 592.9 896.4 594.0C895.9 595.1 896.1 602.3 895.5 603.3C894.9 604.3 890.2 605.9 889.3 606.4C888.4 606.9 885.6 609.4 884.9 609.9C884.2 610.4 881.2 612.1 880.5 612.6C879.8 613.1 876.7 615.8 876.0 616.1C875.3 616.4 872.1 616.0 871.6 616.1C871.1 616.2 870.1 617.2 869.8 617.7C869.5 618.2 868.7 622.4 868.1 622.7C867.5 623.0 863.6 621.0 862.8 621.3C862.0 621.6 858.8 625.4 858.3 626.6C857.8 627.8 857.8 634.3 857.4 635.4C857.0 636.5 853.7 639.1 853.5 639.9C853.3 640.7 854.4 644.3 854.8 645.2C855.2 646.1 857.9 649.2 858.3 650.5C858.7 651.8 859.4 659.3 859.2 660.3C859.1 661.3 857.2 662.7 856.5 662.9C855.8 663.1 851.0 662.2 850.3 662.4C849.6 662.5 848.8 664.0 848.6 664.7C848.4 665.4 848.5 670.1 848.2 670.9C847.9 671.7 845.6 673.5 845.0 674.4C844.4 675.3 841.4 681.0 841.5 681.5C841.6 682.0 845.2 680.3 845.9 680.6C846.6 680.9 849.6 684.4 850.3 685.1C851.0 685.8 853.4 687.7 853.9 688.6C854.4 689.5 855.6 694.7 855.7 695.7C855.8 696.7 854.7 700.3 854.8 701.0C854.9 701.7 856.4 703.8 856.5 704.6C856.6 705.4 856.2 710.1 855.7 710.8C855.2 711.5 850.9 712.9 850.3 713.4C849.7 713.9 849.0 716.5 848.6 717.0C848.2 717.5 846.4 719.3 845.9 719.6C845.4 719.9 842.8 719.8 842.4 720.5C842.0 721.2 840.7 726.4 840.6 727.6C840.5 728.8 840.9 733.5 841.1 734.7C841.3 735.9 842.9 740.6 843.3 741.8C843.7 743.0 845.5 747.9 845.9 748.9C846.3 749.9 848.4 753.3 848.6 754.2C848.8 755.1 848.4 758.8 848.2 759.5C848.0 760.2 846.5 762.8 845.9 763.1C845.3 763.4 841.4 763.6 840.6 763.4C839.8 763.2 836.9 760.6 836.2 760.4C835.5 760.1 833.3 760.0 832.6 760.4C831.9 760.8 828.2 764.1 827.3 764.8C826.4 765.5 822.7 767.7 822.0 768.4C821.3 769.1 819.8 772.1 819.3 772.8C818.8 773.5 816.2 775.7 815.8 776.4C815.4 777.1 814.5 780.0 814.5 780.8C814.5 781.6 816.0 785.1 815.3 786.0C814.6 786.9 806.9 790.3 806.0 791.3C805.1 792.3 804.8 797.1 805.1 798.4C805.4 799.6 808.7 804.9 809.6 806.3C810.5 807.7 815.2 813.2 815.8 815.2C816.4 817.2 816.5 828.4 816.7 830.3C816.9 832.1 817.7 836.1 818.4 837.4C819.1 838.7 824.5 844.8 825.5 846.2C826.5 847.6 829.1 851.9 830.0 854.2C830.9 856.5 835.3 872.4 836.2 873.7C837.1 875.0 839.8 870.3 840.6 869.8C841.4 869.3 844.9 868.0 845.9 867.5C846.9 867.0 851.1 864.3 852.1 863.9C853.1 863.5 856.8 862.2 857.4 862.2C858.0 862.2 859.0 863.6 858.9 864.3C858.8 865.0 856.6 869.7 856.5 871.0C856.4 872.3 857.3 879.2 857.4 879.9M857.4 879.9C857.3 880.3 856.1 884.2 855.7 885.2C855.3 886.2 854.0 889.9 853.0 891.4C852.0 892.9 845.0 901.0 843.3 902.9C841.6 904.8 834.1 912.3 832.6 913.6C831.1 914.9 826.7 918.2 825.5 918.9C824.3 919.6 819.4 921.3 818.4 921.5C817.4 921.7 814.7 921.2 814.0 921.0C813.3 920.8 811.5 919.3 810.5 919.2C809.5 919.1 803.8 919.3 802.5 919.8C801.2 920.3 795.3 924.3 794.5 925.1C793.7 925.9 792.9 928.7 792.7 929.5C792.5 930.3 792.4 934.1 791.9 934.8C791.4 935.5 787.8 937.0 786.5 937.5C785.2 938.0 777.2 940.0 775.9 940.2C774.6 940.4 771.6 940.6 770.6 940.2C769.6 939.8 765.2 936.1 764.4 935.7C763.6 935.3 761.7 935.7 760.8 935.7C759.9 935.7 755.7 936.0 754.0 936.0C752.3 936.0 742.2 935.6 740.6 935.7C739.0 935.8 735.9 937.4 735.0 937.5C734.1 937.6 731.1 936.9 729.4 936.6C727.7 936.3 716.1 934.7 714.4 934.2C712.7 933.7 709.8 930.4 708.9 930.1C708.0 929.8 704.5 930.1 703.3 930.1C702.0 930.1 695.1 929.9 693.9 930.1C692.6 930.3 689.4 932.3 688.3 932.7C687.2 933.1 682.2 934.2 680.9 934.6C679.6 935.0 673.8 937.1 672.5 937.2C671.2 937.3 666.9 936.1 665.9 936.0C664.9 935.9 661.3 936.1 660.3 936.4C659.3 936.7 654.4 938.7 653.8 939.4C653.2 940.1 653.1 943.6 653.3 944.4C653.5 945.2 655.1 948.3 655.7 949.1C656.3 949.9 659.8 953.3 660.3 953.8C660.8 954.3 661.7 954.3 661.7 954.9C661.7 955.5 661.1 959.6 660.7 960.5C660.3 961.4 657.8 964.3 657.0 965.2C656.2 966.1 652.0 969.8 651.4 970.8C650.8 971.8 649.5 975.8 649.2 977.3C648.9 978.8 648.0 986.6 647.7 988.5C647.4 990.4 646.4 998.3 645.8 999.7C645.2 1001.1 641.2 1004.4 640.2 1005.3C639.2 1006.2 634.6 1009.1 633.7 1010.0C632.8 1010.9 629.6 1014.6 629.0 1015.6C628.4 1016.6 626.5 1021.4 626.2 1022.1C625.9 1022.8 624.9 1023.2 625.3 1024.0C625.7 1024.8 629.8 1030.2 630.9 1031.4C632.0 1032.6 637.1 1037.5 638.4 1038.9C639.7 1040.3 645.8 1047.0 646.8 1048.2C647.8 1049.4 650.1 1053.1 650.5 1053.8C650.9 1054.5 651.4 1056.7 651.5 1057.0M625.3 1024.0C624.8 1023.5 620.5 1018.9 619.7 1018.4C618.9 1017.9 617.1 1017.8 616.0 1018.0C614.9 1018.2 608.0 1020.4 606.6 1021.2C605.2 1022.0 600.4 1026.3 599.2 1027.7C598.0 1029.1 593.8 1036.8 592.6 1037.9C591.4 1039.0 585.8 1040.3 584.3 1040.7C582.8 1041.1 576.8 1042.7 574.9 1042.6C573.0 1042.5 563.5 1040.4 561.5 1039.9C559.5 1039.4 552.2 1037.6 550.3 1037.1C548.4 1036.6 541.4 1034.8 539.1 1034.3C536.8 1033.8 524.9 1031.8 522.3 1031.0C519.7 1030.2 510.9 1025.2 508.3 1024.5C505.7 1023.8 493.8 1023.9 491.5 1023.1C489.2 1022.3 481.9 1016.0 480.3 1015.3C478.7 1014.6 473.4 1015.0 472.0 1014.8C470.6 1014.6 464.9 1014.0 463.6 1013.4C462.3 1012.8 457.8 1009.0 456.6 1007.8C455.4 1006.6 450.9 1001.0 449.6 999.4C448.3 997.8 442.4 989.7 441.2 988.2C440.0 986.7 436.4 981.9 435.6 981.2C434.8 980.5 432.7 979.6 431.4 979.8C430.1 980.0 422.1 983.1 420.2 984.0C418.3 984.9 410.5 989.2 409.0 990.1C407.5 991.0 403.3 994.4 402.0 995.2C400.7 996.0 394.4 998.8 393.6 999.4C392.8 1000.0 392.7 1001.6 392.2 1002.2C391.7 1002.8 388.8 1006.2 388.0 1006.4C387.2 1006.6 383.1 1005.6 382.4 1005.0C381.7 1004.4 380.3 1000.1 379.6 999.4C378.9 998.7 374.8 996.6 374.0 996.6C373.2 996.6 371.3 998.6 370.6 999.3C369.9 1000.0 367.0 1004.2 366.1 1004.9C365.2 1005.6 360.9 1006.6 359.4 1007.2C357.9 1007.8 350.2 1011.0 348.2 1011.6C346.1 1012.2 337.2 1014.1 334.8 1013.9C332.4 1013.7 321.5 1010.1 319.1 1009.4C316.7 1008.6 307.6 1005.9 305.7 1004.9C303.8 1003.9 297.6 998.2 296.7 997.1C295.8 996.0 295.1 992.3 294.5 991.5C293.9 990.7 290.8 987.4 290.0 987.0C289.2 986.6 285.9 986.3 285.0 986.5C284.1 986.7 279.6 988.6 279.0 989.0C278.4 989.4 278.0 990.8 277.7 991.5C277.4 992.2 275.9 996.0 275.4 997.1C274.9 998.2 272.9 1003.7 272.1 1004.9C271.3 1006.1 266.7 1010.9 265.4 1011.6C264.1 1012.4 257.9 1013.5 256.4 1013.9C254.9 1014.3 248.7 1015.6 247.5 1016.1C246.3 1016.6 242.9 1019.0 241.9 1019.5C240.9 1020.0 236.2 1021.2 235.0 1021.5C233.8 1021.8 228.6 1023.3 228.0 1023.5M857.4 879.9C857.7 880.0 860.1 880.1 861.0 880.8C861.9 881.5 866.6 887.1 868.1 888.8C869.6 890.5 876.9 899.5 878.7 901.2C880.5 902.9 887.7 908.2 889.3 909.1C890.9 910.0 896.9 911.3 898.2 911.8C899.5 912.3 904.4 914.9 905.3 915.3C906.2 915.7 908.3 916.2 908.8 916.2C909.3 916.2 911.1 915.7 911.5 915.3C911.9 914.9 913.4 912.4 913.3 911.8C913.2 911.2 911.0 908.8 910.6 908.2C910.2 907.6 908.1 905.3 908.0 904.7C907.9 904.1 909.9 901.9 909.7 901.2C909.6 900.5 906.4 897.4 906.2 896.7C906.0 896.0 906.7 893.6 907.1 893.2C907.5 892.8 911.4 891.7 911.5 891.4C911.6 891.1 908.2 890.0 908.0 889.6C907.8 889.2 908.3 886.6 908.8 886.1C909.3 885.6 913.7 883.9 914.2 883.4C914.7 882.9 915.5 880.5 915.0 879.9C914.5 879.3 909.1 876.9 908.8 876.3C908.5 875.7 911.0 873.3 911.5 872.8C912.0 872.3 914.2 871.4 914.5 870.1C914.8 868.8 915.0 858.8 915.0 856.8C915.0 854.8 915.2 847.6 915.0 846.2C914.8 844.8 912.8 841.1 912.4 840.0C912.0 838.9 909.7 834.4 909.7 833.5C909.7 832.6 911.8 830.1 912.4 829.4C913.0 828.7 916.1 825.5 916.8 824.9C917.5 824.3 920.8 823.3 921.2 822.3C921.6 821.3 921.8 813.5 922.1 812.5C922.4 811.5 924.0 810.6 924.8 810.8C925.6 811.0 931.0 814.6 931.9 815.2C932.8 815.8 935.7 817.8 936.0 818.0M895.5 912.7C896.2 913.2 902.5 917.9 903.5 918.9C904.5 919.9 907.8 923.3 908.0 924.2C908.2 925.1 906.7 928.8 906.2 929.5C905.8 930.2 902.9 932.2 902.6 932.9C902.4 933.6 903.3 937.3 903.2 938.1C903.1 938.9 901.9 941.9 901.5 942.7C901.1 943.5 898.6 946.6 898.0 947.3C897.4 948.0 895.2 950.8 894.6 951.3C894.0 951.8 891.5 953.2 891.1 953.6C890.7 954.0 889.4 955.4 889.4 955.9C889.4 956.4 890.1 959.4 890.5 960.0C890.9 960.6 893.7 962.9 894.6 963.4C895.5 963.9 900.4 965.4 901.5 965.7C902.6 966.0 906.3 966.5 907.3 966.9C908.3 967.3 912.0 970.4 913.0 970.9C914.0 971.4 917.7 973.0 918.8 973.2C919.9 973.4 924.8 973.6 925.7 973.8C926.6 974.0 929.2 975.6 929.7 976.1C930.2 976.6 931.2 979.2 931.5 979.6C931.8 980.0 932.9 980.9 933.0 981.0M935.0 995.0C934.8 995.1 932.4 995.5 932.0 995.7C931.6 996.0 930.5 997.3 930.3 998.0C930.1 998.7 929.3 1002.7 929.2 1003.8C929.1 1004.9 928.8 1009.8 928.6 1010.7C928.4 1011.6 927.4 1014.3 926.9 1014.7C926.4 1015.1 922.7 1015.0 922.2 1015.3C921.7 1015.6 920.7 1018.0 920.5 1018.8C920.3 1019.6 920.0 1023.5 919.9 1024.5C919.8 1025.5 919.1 1029.6 918.8 1030.3C918.5 1031.0 916.6 1032.6 916.5 1033.2C916.4 1033.8 916.5 1036.6 917.0 1037.2C917.5 1037.8 921.4 1040.1 922.2 1040.7C923.0 1041.3 926.2 1043.6 926.9 1044.1C927.6 1044.6 929.8 1046.1 930.3 1046.5C930.8 1046.9 932.8 1048.8 933.0 1049.0M935.0 1014.0C934.8 1014.1 932.3 1015.0 932.0 1015.3C931.7 1015.6 930.9 1017.3 930.9 1017.6C930.9 1017.9 931.7 1019.2 932.0 1019.4C932.3 1019.6 934.8 1020.0 935.0 1020.0M935.0 786.0C934.7 786.1 932.4 787.3 931.9 787.7C931.4 788.1 929.5 789.8 929.2 790.4C928.9 791.0 928.5 794.1 928.7 794.8C928.9 795.5 931.4 798.8 931.9 799.2C932.4 799.6 934.7 799.9 935.0 800.0M457.6 805.2C458.0 805.4 461.4 807.5 462.3 807.7C463.2 807.9 468.0 807.2 469.0 807.2C470.0 807.2 473.4 806.8 474.0 807.4C474.6 808.0 475.1 813.4 475.7 814.4C476.3 815.4 481.0 819.6 481.6 820.0C482.2 820.4 483.1 819.1 483.3 818.6C483.5 818.1 484.2 814.3 484.4 814.4C484.6 814.5 485.3 819.5 485.8 820.3C486.3 821.1 488.9 823.5 490.0 824.0C491.1 824.5 498.1 826.2 499.2 826.2C500.3 826.2 502.9 824.5 503.4 824.5C503.9 824.5 504.6 825.9 505.1 826.2C505.6 826.5 509.0 827.3 509.3 827.9C509.6 828.5 508.7 832.2 508.9 833.7C509.1 835.2 511.6 843.5 511.8 845.5C512.0 847.5 511.9 855.5 511.8 857.2C511.7 858.9 510.9 864.4 510.6 865.6C510.3 866.8 508.9 871.4 508.4 872.0C507.9 872.6 504.7 873.0 504.2 873.2C503.7 873.4 502.7 874.0 502.6 874.9C502.5 875.8 503.2 882.8 503.4 884.1C503.6 885.4 504.8 889.3 505.1 890.8C505.4 892.3 506.2 900.8 506.8 901.7C507.4 902.6 511.0 900.9 511.8 901.2C512.6 901.5 515.4 904.4 516.0 905.1C516.6 905.8 518.2 908.4 518.5 909.3C518.8 910.2 518.6 914.8 519.0 916.0C519.4 917.2 523.4 922.8 523.6 924.1C523.8 925.4 521.4 930.0 521.0 931.1C520.6 932.2 519.6 936.8 519.4 937.8C519.1 938.8 518.6 942.9 518.0 943.7C517.4 944.5 513.3 947.0 512.6 947.1C511.9 947.2 511.0 945.5 510.1 945.4C509.2 945.3 502.9 945.8 501.7 945.4C500.5 945.0 496.9 942.0 495.8 941.2C494.8 940.4 489.9 937.1 489.1 936.1C488.3 935.1 487.2 929.2 486.6 928.6C486.0 928.0 483.3 929.1 482.4 929.4C481.5 929.7 476.7 931.6 475.7 931.9C474.7 932.2 471.2 933.0 470.7 932.8C470.2 932.6 470.4 930.2 469.8 929.4C469.2 928.6 464.0 923.7 463.9 922.7C463.8 921.7 467.4 918.2 468.1 917.3C468.8 916.4 472.2 913.2 472.3 911.8C472.4 910.4 469.6 902.4 469.0 900.9C468.4 899.4 465.2 895.1 464.8 894.2C464.4 893.3 464.2 890.5 463.9 890.0C463.5 889.5 460.7 888.9 460.6 888.3C460.5 887.7 462.6 883.1 462.3 882.4C462.0 881.7 457.9 880.8 457.2 880.4C456.5 880.0 454.6 878.9 453.9 878.2C453.2 877.5 449.6 872.3 448.8 871.5C448.0 870.7 444.3 868.7 443.8 868.6C443.3 868.5 443.1 869.9 443.0 870.7C442.9 871.5 443.1 877.6 442.5 878.2C441.9 878.8 436.0 878.6 435.4 878.2C434.8 877.9 435.2 875.0 435.4 874.0C435.6 873.0 437.5 866.9 437.9 865.6C438.3 864.3 440.6 859.5 440.4 858.9C440.2 858.3 435.9 859.2 435.4 858.6C434.9 858.0 434.8 853.0 434.6 852.2C434.4 851.4 433.0 849.4 433.4 848.8C433.8 848.2 437.9 846.2 438.8 845.5C439.7 844.8 443.0 841.2 443.8 840.4C444.6 839.6 448.1 836.3 448.8 835.4C449.5 834.5 451.7 830.1 452.2 829.5C452.7 828.9 454.5 829.3 454.7 828.7C454.9 828.1 454.2 824.3 454.2 822.8C454.2 821.3 454.9 811.7 455.2 810.2C455.5 808.7 457.4 805.6 457.6 805.2" fill="none" stroke="#262626" stroke-width="0.85" stroke-linejoin="round"/>
<path d="M64.0 335.9C64.5 336.1 69.4 337.7 70.2 338.0C71.0 338.3 72.7 340.0 73.2 340.0C73.7 340.0 75.6 338.5 75.9 338.0C76.2 337.5 76.9 334.5 77.3 333.9C77.7 333.3 79.9 331.5 80.4 330.8C80.9 330.1 82.8 326.5 83.5 325.7C84.2 324.9 87.9 322.1 88.6 321.5C89.3 320.9 91.3 318.9 91.7 318.9C92.1 318.9 93.1 320.1 93.2 321.0C93.3 321.9 93.1 329.2 93.3 330.0C93.5 330.8 94.8 331.3 95.0 330.5C95.2 329.7 95.4 321.1 95.6 320.0C95.8 318.9 97.2 317.2 97.5 317.2C97.8 317.2 99.1 318.9 99.3 319.5C99.5 320.1 99.9 324.1 100.0 325.0C100.1 325.9 100.8 329.3 101.0 330.0C101.2 330.7 102.2 333.1 102.5 333.5C102.8 333.9 104.7 334.6 105.0 334.5C105.3 334.4 105.7 332.1 106.0 331.8C106.3 331.5 108.1 330.6 109.1 330.4C110.0 330.2 116.4 329.8 117.4 329.8C118.4 329.8 120.9 330.1 121.5 330.4C122.1 330.7 124.3 333.2 124.5 333.9C124.7 334.6 123.4 338.0 123.5 339.0C123.6 340.0 125.2 344.9 125.6 346.2C126.0 347.5 128.2 353.2 128.6 354.4C129.0 355.6 130.3 359.5 130.7 360.5C131.1 361.5 133.2 365.9 133.8 366.7C134.4 367.5 137.1 369.9 137.9 370.4C138.7 370.9 142.2 372.5 143.0 372.9C143.8 373.3 146.3 374.5 147.1 374.9C147.9 375.3 151.3 377.2 152.2 377.6C153.1 378.0 157.4 379.8 158.4 380.0C159.4 380.2 163.8 380.2 164.6 380.0C165.4 379.8 167.2 378.2 167.6 378.0C168.0 377.8 168.7 376.8 169.0 377.0C169.3 377.2 170.1 379.6 170.7 380.0C171.3 380.4 174.8 381.8 175.8 382.1C176.8 382.4 182.1 382.9 183.0 383.1C183.9 383.3 185.6 383.8 186.1 384.1C186.6 384.4 188.4 385.7 189.2 386.2C190.0 386.7 194.1 389.8 195.3 390.3C196.5 390.9 202.1 392.6 203.5 392.8C204.9 393.0 210.4 393.0 211.8 392.8C213.2 392.6 218.8 390.5 220.0 389.9C221.2 389.3 225.2 385.9 226.1 385.2C227.0 384.5 230.2 382.4 231.2 381.7C232.2 381.0 237.5 377.8 238.4 377.0C239.3 376.2 242.0 372.7 242.5 371.8C243.0 370.9 244.2 367.4 244.6 366.7C245.0 366.0 247.1 363.6 247.7 363.2C248.2 362.8 250.6 361.6 251.2 361.6C251.8 361.6 254.0 363.0 254.8 363.6C255.6 364.2 259.8 368.5 261.0 369.4C262.2 370.3 267.9 373.3 269.2 373.9C270.5 374.5 275.6 376.5 276.7 376.9C277.8 377.3 281.6 378.8 282.6 379.0C283.6 379.2 287.4 379.1 288.5 379.0C289.6 378.9 294.1 378.6 295.2 378.3C296.3 378.0 301.1 376.1 301.9 375.8C302.7 375.5 304.5 374.6 305.3 374.4C306.1 374.2 310.9 373.8 312.0 373.6C313.1 373.4 317.7 372.3 318.7 371.9C319.7 371.5 322.9 369.3 323.7 368.5C324.5 367.7 327.3 363.5 327.9 362.7C328.5 361.9 330.7 359.7 331.3 359.3C331.9 358.9 334.1 357.8 334.6 357.6C335.1 357.4 337.1 356.9 337.2 356.8C337.3 356.7 336.2 356.1 336.3 356.0C336.4 355.9 338.3 355.4 338.8 355.4C339.3 355.4 341.9 355.8 342.2 356.0C342.5 356.2 342.6 357.4 342.5 357.6C342.4 357.8 340.7 358.5 340.5 358.8C340.3 359.1 339.9 360.9 340.2 361.0C340.5 361.1 343.2 359.7 343.9 359.8C344.6 359.9 347.5 361.3 348.1 361.8C348.7 362.3 351.0 365.2 351.4 366.0C351.8 366.8 352.0 370.5 352.3 371.1C352.6 371.7 354.4 373.5 354.8 373.6C355.2 373.7 356.8 372.8 357.3 372.7C357.8 372.6 360.1 371.9 360.7 371.9C361.3 371.9 363.2 372.6 364.0 372.2C364.8 371.8 369.6 368.5 370.7 367.7C371.8 366.9 376.6 363.1 377.5 363.0C378.4 362.9 381.0 366.4 381.7 366.9C382.4 367.4 385.0 368.9 385.8 369.4C386.6 369.9 390.1 372.2 390.9 372.7C391.7 373.2 395.1 375.2 395.9 375.8C396.7 376.4 399.4 379.3 400.1 379.8C400.8 380.3 403.7 381.5 404.3 382.0C404.9 382.5 407.3 385.6 407.7 386.2C408.1 386.8 408.3 389.1 408.5 389.5C408.7 389.9 410.4 390.8 410.2 391.2C410.0 391.6 406.4 393.2 406.0 393.7C405.6 394.2 404.8 396.3 404.8 397.1C404.8 397.9 405.5 402.5 405.7 403.8C405.9 405.1 406.5 410.9 406.8 412.2C407.1 413.5 408.9 417.8 409.4 418.9C409.9 419.9 412.1 424.0 412.7 424.8C413.3 425.6 415.7 427.6 416.1 428.1C416.5 428.6 417.3 429.8 417.7 430.3C418.1 430.8 419.7 433.3 420.3 434.0C420.9 434.7 423.7 437.6 424.5 438.2C425.3 438.8 428.6 440.4 429.5 440.7C430.4 441.0 434.7 441.6 435.4 441.6C436.1 441.6 437.5 440.4 437.9 440.4C438.2 440.4 439.0 441.4 439.6 441.6C440.2 441.8 443.6 442.7 444.6 442.8C445.6 442.9 451.2 442.6 452.1 442.5C453.0 442.4 454.3 441.3 454.9 441.4C455.4 441.5 458.0 443.1 458.7 443.3C459.4 443.5 462.7 443.8 463.3 444.0C463.9 444.2 465.7 445.4 466.1 445.7C466.5 445.9 467.7 446.8 468.0 447.0C468.3 447.2 469.8 447.6 470.2 447.6C470.6 447.6 472.1 446.8 472.5 446.7C472.9 446.6 474.8 446.5 475.1 446.3C475.4 446.1 475.6 444.9 475.6 444.4C475.6 443.9 475.5 440.7 475.6 440.3C475.7 439.9 476.3 439.8 476.6 439.8C476.9 439.8 478.5 439.9 478.8 439.8C479.1 439.7 479.7 438.5 479.9 438.3C480.1 438.1 480.8 437.5 480.9 437.7C481.0 437.9 481.1 439.7 481.1 440.3C481.1 440.9 480.7 443.9 480.7 444.4C480.7 444.9 481.2 445.7 481.4 445.9C481.6 446.1 482.7 447.1 482.9 447.2C483.1 447.3 483.9 447.5 484.0 447.2C484.1 446.9 484.0 444.4 484.0 443.7C484.0 443.0 483.7 439.8 483.7 439.2C483.7 438.6 483.8 437.2 483.9 437.0C484.0 436.8 484.5 436.5 484.6 436.6C484.7 436.7 485.4 437.9 485.5 438.1C485.6 438.3 486.2 439.4 486.3 439.2C486.4 439.0 486.6 436.5 486.7 436.2C486.8 435.9 487.5 435.6 487.6 435.6C487.7 435.6 488.0 436.1 488.1 436.6C488.2 437.1 488.6 440.3 488.7 441.1C488.8 441.9 489.4 445.2 489.5 445.9C489.6 446.5 490.3 448.5 490.4 448.9C490.5 449.3 490.8 450.5 490.8 450.8C490.8 451.1 490.5 452.3 490.6 452.6C490.7 452.9 491.7 453.9 491.9 454.1C492.1 454.4 493.1 455.3 493.4 455.6C493.7 455.9 495.3 457.4 495.6 457.5C495.9 457.6 497.2 457.3 497.5 457.1C497.8 456.9 498.9 455.5 499.0 455.2C499.1 454.9 498.9 453.2 499.0 453.0C499.1 452.8 500.2 452.4 500.5 452.4C500.8 452.4 501.8 453.1 502.0 453.4C502.2 453.7 502.5 455.2 502.7 455.6C502.9 456.0 503.9 457.9 504.2 458.2C504.4 458.5 505.4 459.2 505.7 459.3C506.0 459.4 507.4 459.1 508.0 459.0C508.6 458.9 511.9 457.8 512.8 457.8C513.7 457.8 517.5 458.8 518.4 458.8C519.3 458.8 523.1 458.4 524.0 458.2C524.9 458.0 527.7 457.3 528.6 456.9C529.5 456.5 534.0 453.9 535.1 453.2C536.2 452.5 540.8 449.6 541.7 448.9C542.6 448.2 544.9 445.1 545.4 444.8C545.9 444.5 547.1 445.3 547.3 445.7C547.5 446.1 547.6 449.7 547.8 450.0C547.9 450.3 548.9 449.5 549.1 448.9C549.3 448.3 549.9 444.0 550.1 443.3C550.3 442.6 551.7 440.9 551.9 440.1C552.1 439.3 552.3 434.6 552.5 434.1C552.7 433.6 553.8 434.4 554.2 434.5C554.6 434.6 556.8 435.6 557.5 435.8C558.2 436.0 562.6 436.9 563.1 437.3C563.6 437.7 563.9 440.7 564.1 440.7C564.3 440.7 565.5 437.3 565.9 436.9C566.3 436.5 568.2 436.4 568.7 436.4C569.2 436.4 571.9 437.0 572.5 436.9C573.1 436.8 575.8 434.7 576.2 435.4C576.6 436.1 576.9 444.8 577.1 445.7C577.3 446.6 578.2 446.3 578.4 445.7C578.6 445.1 578.6 438.8 579.0 438.2C579.4 437.6 582.8 438.1 583.7 438.2C584.6 438.3 588.7 439.0 589.3 439.2C589.9 439.4 590.6 440.7 591.1 440.7C591.6 440.7 594.4 439.5 594.9 439.2C595.4 438.9 596.1 437.5 596.7 437.3C597.3 437.1 601.4 436.8 602.3 436.9C603.2 437.0 607.0 438.2 607.9 438.2C608.8 438.2 612.4 437.1 613.5 436.9C614.6 436.7 620.1 436.3 621.0 436.0C621.9 435.7 623.9 433.9 624.7 433.6C625.5 433.3 629.4 432.8 630.3 432.6C631.2 432.4 634.9 431.9 635.9 431.7C636.9 431.5 641.6 430.7 642.6 430.5C643.6 430.3 647.1 429.2 647.9 428.9C648.7 428.6 651.7 426.9 652.4 426.7C653.1 426.4 655.6 426.1 656.2 425.9C656.8 425.7 658.9 425.0 659.2 424.4C659.5 423.8 659.7 419.6 659.9 419.2C660.1 418.8 661.1 419.2 661.4 419.5C661.7 419.8 663.3 422.2 663.7 422.5C664.1 422.8 666.1 422.9 666.7 422.9C667.3 422.8 670.5 422.1 671.2 421.9C672.0 421.7 675.6 421.0 675.7 420.7C675.8 420.4 672.6 418.3 672.0 418.0C671.4 417.7 668.8 417.1 668.2 416.9C667.6 416.7 665.0 416.1 664.4 415.8C663.8 415.5 661.8 413.7 661.4 413.1C661.0 412.5 659.7 409.4 659.5 408.6C659.3 407.9 659.7 404.7 659.5 404.1C659.3 403.5 657.5 401.5 656.9 401.1C656.3 400.7 653.0 399.2 652.4 398.8C651.8 398.4 649.8 397.1 649.4 396.6C649.0 396.1 647.8 393.0 647.9 392.8C648.0 392.6 649.5 394.1 650.1 394.3C650.7 394.5 654.6 395.3 655.4 395.3C656.2 395.3 658.6 394.6 659.2 394.3C659.8 394.0 662.2 392.0 662.9 391.7C663.6 391.4 667.3 390.9 667.5 390.5C667.7 390.1 665.1 388.0 665.2 387.5C665.3 387.0 667.6 385.1 668.2 384.8C668.8 384.6 671.5 384.8 672.0 384.5C672.5 384.2 673.8 382.1 673.9 381.5C674.0 380.9 673.7 377.6 673.5 377.0C673.3 376.4 671.8 374.1 671.2 373.7C670.6 373.3 667.1 372.8 666.7 372.4C666.3 372.0 666.2 369.0 666.0 368.7C665.8 368.4 664.2 368.5 663.7 368.7C663.2 368.9 660.5 370.2 659.9 370.6C659.3 371.0 656.6 373.5 656.2 374.0C655.8 374.5 655.0 376.8 654.7 377.0C654.4 377.2 652.9 376.6 652.8 376.2C652.7 375.8 652.9 373.2 653.1 372.4C653.3 371.6 654.8 367.3 654.7 366.4C654.6 365.5 652.8 362.5 652.4 361.9C652.0 361.3 650.2 359.4 650.1 358.9C650.0 358.4 650.7 356.4 650.9 356.2C651.1 355.9 652.0 355.9 652.4 355.9C652.8 355.9 655.9 356.8 656.2 356.6C656.5 356.4 655.8 353.9 656.2 353.6C656.6 353.3 660.0 353.1 660.7 352.9C661.5 352.7 664.6 352.0 665.2 351.4C665.8 350.8 667.1 347.2 667.5 346.1C667.9 345.0 669.3 338.9 669.7 337.8C670.1 336.7 671.7 333.9 672.0 333.3C672.3 332.7 673.2 330.9 673.5 330.3C673.8 329.7 674.9 326.8 675.0 325.7C675.1 324.6 674.5 318.1 674.2 316.7C674.0 315.3 672.5 310.4 672.0 309.2C671.5 308.0 668.8 303.2 668.2 302.4C667.6 301.6 666.0 299.9 665.2 299.7C664.5 299.4 660.1 299.4 659.2 299.4C658.3 299.4 655.4 299.9 654.7 300.1C654.0 300.3 651.6 301.9 651.3 301.6C651.0 301.4 651.5 297.7 651.6 297.1C651.8 296.5 652.6 295.3 653.1 294.9C653.6 294.5 657.0 292.9 657.7 292.6C658.4 292.3 660.9 291.5 661.4 291.1C661.9 290.7 663.4 288.7 663.7 288.1C664.0 287.5 665.2 284.7 665.2 284.3C665.2 283.9 663.7 283.1 663.7 282.8C663.7 282.5 664.8 280.8 665.2 280.5C665.6 280.2 667.6 279.6 668.2 279.5C668.8 279.4 671.9 279.2 672.7 279.0C673.5 278.8 676.5 277.7 677.3 277.5C678.1 277.3 681.2 276.3 681.8 276.3C682.4 276.3 684.4 277.3 684.8 277.5C685.2 277.7 686.6 279.0 687.0 279.0C687.4 279.0 689.7 277.5 690.1 277.5C690.5 277.5 692.0 278.8 692.3 279.0C692.6 279.2 693.7 280.2 693.8 280.5C693.9 280.8 693.1 282.5 693.5 282.8C693.9 283.1 697.4 283.6 698.3 283.9C699.2 284.1 703.5 285.4 704.4 285.8C705.3 286.2 708.7 288.0 709.6 288.4C710.5 288.8 714.1 290.0 714.9 290.3C715.7 290.6 718.6 292.0 719.4 292.3C720.2 292.6 723.1 293.6 724.0 293.7C724.9 293.8 729.0 294.0 730.0 294.1C731.0 294.2 735.1 294.5 736.0 294.6C736.9 294.7 739.8 295.2 740.5 295.3C741.2 295.4 744.2 295.1 745.0 295.3C745.8 295.5 748.7 297.0 749.6 297.9C750.5 298.8 754.6 304.8 755.6 306.2C756.6 307.6 760.6 313.1 761.6 314.4C762.6 315.6 766.6 320.1 767.6 321.2C768.6 322.3 772.9 326.5 773.7 327.3C774.5 328.1 775.7 329.7 776.7 330.4C777.7 331.1 783.7 334.8 785.2 335.5C786.8 336.2 793.6 338.8 795.3 339.2C797.0 339.6 803.9 340.7 805.4 340.9C806.9 341.1 812.7 341.6 813.8 341.7C814.9 341.8 817.7 342.3 818.8 342.2C819.9 342.1 825.9 340.6 827.2 340.2C828.5 339.8 833.1 337.6 834.0 337.1C834.9 336.6 837.8 335.0 838.2 334.6C838.6 334.2 838.4 333.2 839.0 332.9C839.6 332.6 844.2 331.7 845.8 331.3C847.3 330.9 855.5 329.2 857.6 328.7C859.7 328.2 869.2 326.2 871.0 325.7C872.8 325.2 878.0 323.3 879.4 322.8C880.8 322.3 886.4 320.4 887.9 320.0C889.4 319.6 896.6 318.6 898.0 318.3C899.4 318.0 903.7 316.9 904.7 316.6C905.7 316.4 908.7 315.4 909.8 315.3C910.9 315.2 917.1 315.2 918.2 315.3C919.3 315.4 922.5 316.1 923.2 316.1C923.9 316.1 925.9 314.9 926.6 314.9C927.3 314.9 930.8 315.9 931.6 316.1C932.4 316.3 935.6 316.9 936.0 317.0M417.7 430.3C416.6 430.8 405.8 435.4 404.3 436.0C402.8 436.6 400.4 437.3 399.3 437.4C398.2 437.5 392.1 437.6 390.9 437.7C389.7 437.8 385.7 438.0 385.0 438.2C384.3 438.4 382.9 440.1 382.8 440.4C382.7 440.7 383.9 441.4 384.2 441.6C384.5 441.8 386.6 442.8 386.7 443.3C386.8 443.8 386.1 446.3 385.8 447.5C385.5 448.7 383.7 455.6 383.3 457.5C382.9 459.4 381.0 467.9 380.8 470.0C380.6 472.1 380.5 481.2 380.6 483.2C380.7 485.2 382.1 492.2 382.4 493.8C382.7 495.4 383.4 501.7 383.8 502.7C384.2 503.7 385.7 504.7 386.8 505.3C387.9 505.9 395.1 508.8 396.6 509.4C398.2 510.0 404.1 511.8 405.4 512.4C406.7 512.9 411.8 515.3 412.5 516.0C413.2 516.7 414.0 519.2 414.3 520.4C414.6 521.6 415.7 528.8 415.7 530.1C415.7 531.4 414.6 535.2 414.3 536.3C414.0 537.4 412.6 542.3 412.5 543.4C412.4 544.5 412.3 548.8 412.5 549.6C412.7 550.4 414.3 552.4 415.2 552.7C416.1 553.0 422.1 553.6 423.2 553.7C424.3 553.8 427.7 553.9 428.5 554.1C429.3 554.4 432.3 556.1 432.9 556.7C433.5 557.3 435.5 560.3 435.9 561.2C436.3 562.1 437.8 566.4 438.2 567.4C438.6 568.4 440.6 571.7 440.9 572.7C441.2 573.7 441.7 577.8 441.8 578.9C441.9 580.0 441.9 585.0 441.8 586.0C441.8 587.0 441.1 590.5 441.2 591.3C441.3 592.1 442.3 595.1 442.7 595.7C443.1 596.3 444.7 597.4 445.4 598.0C446.1 598.6 450.1 601.2 450.8 602.4C451.5 603.6 452.8 610.9 453.4 612.2C454.0 613.5 457.3 617.3 457.9 618.4C458.5 619.5 460.1 624.4 460.5 625.4C460.9 626.4 462.7 629.6 462.8 630.8C462.9 632.0 461.7 638.1 461.4 639.6C461.1 641.1 458.9 647.0 458.7 648.5C458.5 650.0 458.9 656.0 458.7 657.4C458.5 658.8 456.8 664.2 456.4 665.3C456.0 666.4 455.2 669.7 454.3 670.1C453.4 670.5 447.0 670.2 445.4 670.1C443.8 670.0 437.2 669.4 435.0 669.3C432.8 669.2 420.7 669.4 418.5 669.3C416.3 669.2 410.9 668.3 408.3 668.2C405.7 668.1 390.7 667.8 387.8 667.8C384.9 667.8 375.0 668.2 373.4 668.2C371.8 668.2 369.2 667.5 368.3 667.6C367.4 667.7 364.2 669.1 363.1 669.3C362.0 669.5 356.9 670.3 354.9 670.3C352.8 670.3 341.2 669.7 338.5 669.7C335.8 669.7 324.7 669.9 322.1 669.9C319.5 669.9 309.3 669.7 307.7 669.9C306.1 670.1 303.4 672.1 302.6 671.9C301.8 671.7 299.0 668.2 298.5 667.2C298.0 666.2 296.9 660.9 296.4 660.0C295.9 659.1 293.0 657.6 292.3 657.0C291.6 656.4 289.1 653.3 288.2 652.9C287.3 652.5 282.4 651.9 281.0 651.8C279.6 651.7 273.2 651.7 271.8 651.4C270.4 651.1 264.9 648.1 263.6 647.7C262.3 647.3 257.6 646.9 256.4 646.7C255.2 646.5 250.2 645.8 249.2 645.3C248.2 644.8 245.5 641.7 244.8 641.3C244.1 640.9 241.1 640.4 240.4 640.2C239.7 640.0 237.5 638.5 236.8 638.6C236.1 638.7 231.7 640.8 231.5 641.3C231.3 641.8 233.5 643.8 234.2 644.3C234.9 644.8 239.4 646.7 240.4 647.0C241.4 647.3 245.0 648.1 245.7 648.4C246.4 648.7 248.2 649.9 248.3 650.5C248.4 651.1 247.3 655.0 247.4 655.8C247.5 656.6 249.3 659.6 249.2 660.3C249.1 661.0 247.6 663.5 246.6 663.8C245.6 664.0 239.2 663.3 237.7 663.3C236.2 663.3 230.1 663.6 228.8 663.8C227.5 664.0 223.5 665.6 222.6 665.6C221.7 665.6 218.8 665.0 218.2 664.3C217.6 663.6 215.8 659.0 215.5 657.6C215.2 656.2 215.0 648.8 214.7 647.0C214.4 645.2 212.4 637.6 212.0 636.3C211.6 635.0 210.1 632.4 209.3 631.9C208.5 631.4 203.2 630.2 202.3 629.8C201.4 629.4 199.4 627.8 198.7 627.5C198.0 627.2 194.8 625.8 194.3 625.7C193.8 625.6 193.2 626.0 192.9 626.1C192.6 626.2 190.6 627.1 190.1 627.5C189.6 627.9 187.7 630.2 187.3 630.7C186.9 631.2 185.5 633.5 185.0 634.0C184.5 634.5 182.4 636.7 181.7 637.3C181.0 637.9 177.8 640.4 177.1 641.0C176.4 641.6 173.9 643.9 173.3 644.5C172.7 645.1 170.6 647.5 170.1 648.0C169.6 648.5 168.1 650.3 167.7 650.8C167.3 651.3 165.4 654.0 164.9 654.5C164.4 655.0 162.6 656.9 162.1 657.3C161.6 657.7 159.8 658.8 159.3 658.9C158.8 659.0 156.2 658.4 156.2 659.0C156.2 659.6 159.3 664.8 159.7 666.5C160.1 668.2 161.1 677.0 161.5 678.9C161.9 680.8 164.6 688.0 165.0 689.5C165.4 691.0 166.4 695.5 166.8 696.6C167.2 697.7 170.0 701.7 170.3 702.8C170.6 703.9 170.6 709.0 170.9 709.7C171.2 710.4 173.3 711.3 173.9 711.5C174.5 711.7 177.7 711.7 178.3 712.1C178.9 712.5 180.7 716.0 181.0 716.8C181.3 717.6 182.2 721.7 182.4 722.2C182.6 722.7 183.7 722.8 183.6 723.0C183.5 723.2 181.1 724.1 181.0 724.8C180.9 725.5 182.1 730.2 181.9 731.0C181.7 731.8 178.8 733.9 178.3 734.6C177.9 735.3 177.2 738.1 176.5 739.0C175.8 739.9 171.3 744.3 170.3 745.2C169.3 746.1 165.9 748.9 165.0 749.3C164.1 749.7 160.7 750.4 159.7 750.5C158.7 750.6 153.6 750.1 152.6 750.0C151.6 749.9 149.1 748.8 148.2 748.7C147.3 748.6 143.0 748.6 142.0 748.7C141.0 748.8 137.3 749.6 136.7 750.0C136.1 750.4 134.9 752.4 134.9 753.2C134.9 754.0 136.3 758.4 136.7 759.4C137.1 760.4 139.2 764.5 139.3 765.6C139.4 766.7 138.7 771.5 138.4 772.7C138.1 773.9 136.1 778.3 135.8 779.8C135.5 781.3 134.9 788.9 134.5 790.4C134.1 791.9 131.2 796.3 131.0 797.5C130.8 798.7 132.1 803.3 132.2 804.6C132.3 805.9 132.0 812.1 132.2 813.4C132.4 814.7 134.1 819.3 134.9 820.5C135.7 821.7 141.1 826.6 142.0 827.6C142.9 828.6 145.1 831.6 145.5 832.9C145.9 834.2 146.1 842.1 146.4 843.6C146.7 845.1 148.3 849.3 149.1 850.7C149.9 852.1 155.3 859.1 156.2 860.4C157.1 861.6 159.4 864.7 159.7 865.7C160.0 866.7 159.8 871.8 159.7 872.8C159.6 873.8 158.9 876.2 158.8 877.2C158.7 878.2 159.0 883.2 158.8 884.3C158.6 885.4 156.5 888.8 156.2 890.0C155.9 891.2 155.5 896.7 155.5 898.7C155.5 900.7 156.0 911.3 156.1 913.6C156.2 915.9 156.8 924.3 157.0 926.6C157.2 928.9 157.9 939.3 158.0 941.6C158.1 943.9 158.5 952.7 158.6 954.6C158.7 956.5 158.7 963.5 159.0 964.6C159.3 965.7 161.4 967.2 162.4 968.0C163.4 968.8 169.9 972.4 171.3 973.6C172.7 974.8 178.0 981.1 179.2 982.5C180.4 983.9 184.8 989.5 185.9 990.4C187.0 991.3 191.4 993.1 192.6 993.7C193.8 994.3 199.2 996.3 200.4 997.1C201.6 997.9 205.9 1002.5 207.2 1003.8C208.5 1005.1 214.6 1011.4 216.1 1012.8C217.6 1014.2 224.1 1019.6 225.1 1020.6C226.1 1021.6 228.5 1024.4 228.4 1025.1C228.3 1025.8 225.0 1028.8 224.0 1029.5C223.0 1030.2 217.1 1033.2 216.1 1034.0C215.1 1034.8 212.1 1037.4 211.6 1038.5C211.1 1039.6 210.7 1046.5 210.5 1047.5C210.3 1048.5 209.9 1050.4 209.4 1050.8C208.9 1051.2 206.0 1051.6 204.9 1051.9C203.8 1052.2 197.4 1053.7 196.0 1054.2C194.6 1054.7 188.7 1057.7 188.0 1058.0M462.8 630.8C463.3 630.8 467.0 630.5 468.5 630.4C470.0 630.2 479.2 629.1 480.9 629.0C482.6 628.9 488.0 628.4 488.9 628.6C489.8 628.8 491.6 630.8 491.5 631.7C491.4 632.6 488.7 638.2 488.0 639.6C487.3 641.0 484.3 647.0 483.6 648.5C482.9 650.0 480.4 655.9 480.0 657.4C479.6 658.9 478.7 665.1 478.8 666.2C478.9 667.3 480.1 670.1 480.9 670.6C481.7 671.1 487.0 671.9 488.0 671.9C489.0 671.9 492.3 671.8 493.3 671.2C494.3 670.7 499.4 665.9 500.4 665.3C501.4 664.7 504.4 664.5 505.7 664.4C507.0 664.3 515.0 664.0 516.3 663.6C517.6 663.2 520.1 659.6 520.8 659.1C521.5 658.6 523.2 657.1 524.3 657.0C525.4 656.9 533.1 657.9 534.1 658.2C535.1 658.5 536.3 660.3 536.7 660.9C537.1 661.5 538.1 664.7 538.5 665.3C538.9 665.9 540.7 667.9 541.2 668.0C541.7 668.1 544.1 666.5 544.7 666.6C545.3 666.7 547.6 668.6 548.2 668.9C548.8 669.2 551.2 669.9 551.8 670.1C552.4 670.3 554.8 670.8 555.3 671.2C555.8 671.6 557.3 674.2 558.0 674.7C558.7 675.2 563.1 677.1 564.2 677.7C565.3 678.3 570.3 681.8 571.3 682.2C572.3 682.7 575.0 683.1 575.7 683.1C576.4 683.1 579.7 682.7 580.2 682.2C580.7 681.8 581.5 678.7 581.9 677.7C582.3 676.7 585.1 671.7 585.5 670.6C585.9 669.5 587.2 665.5 587.2 664.4C587.2 663.3 585.9 658.7 585.8 657.4C585.7 656.1 586.3 649.8 586.4 648.5C586.5 647.2 587.1 642.6 587.5 641.5C587.9 640.4 591.3 636.8 591.7 635.2C592.1 633.6 592.4 623.2 592.2 621.9C592.1 620.6 590.5 619.6 589.9 619.2C589.3 618.8 585.3 618.0 584.6 617.5C583.9 617.0 582.1 614.1 581.9 613.0C581.7 611.9 582.6 606.1 582.6 604.7C582.6 603.3 582.5 597.1 582.2 596.2C581.9 595.3 579.3 594.9 579.0 594.1C578.7 593.3 578.6 587.9 578.7 587.0C578.8 586.1 579.8 583.5 580.4 583.1C581.0 582.7 584.5 582.0 585.8 581.7C587.1 581.4 594.8 579.4 596.4 579.0C598.0 578.6 604.0 577.4 605.3 577.2C606.6 577.0 611.3 577.4 612.0 576.3C612.7 575.2 612.8 565.7 613.2 563.9C613.6 562.1 616.1 555.7 616.8 554.2C617.5 552.7 620.3 547.5 621.2 546.2C622.1 544.9 626.4 539.5 627.4 538.2C628.4 536.9 632.0 531.7 632.7 530.3C633.4 528.9 635.1 522.9 635.4 521.4C635.7 519.9 636.3 514.0 636.3 512.5C636.3 511.0 635.9 510.4 635.9 503.7C635.9 497.0 635.9 437.7 635.9 431.7" fill="none" stroke="#000" stroke-width="2.05" stroke-linejoin="round" stroke-linecap="round"/>

<ellipse cx="293.3" cy="143.7" rx="1.3" ry="2" fill="#000"/>
<ellipse cx="272.8" cy="150.3" rx="1.6" ry="1.2" fill="#000"/>
<path d="M202 170.4L206.2 171.5L213 173.3L216.8 171.3L220 173.7L217.6 175L213.6 173.5M220 173.7L221.6 175.2L228.6 177.9" fill="none" stroke="#000" stroke-width="2.4" stroke-linejoin="round" stroke-linecap="round"/>
<path d="M235.6 178.4L245.3 179.5" stroke="#000" stroke-width="2.7" stroke-linecap="round"/>
<ellipse cx="267.8" cy="194.9" rx="3.4" ry="1.8" fill="none" stroke="#000" stroke-width="1.6"/>
<path d="M307.9 225.4L309.3 223.9L310.8 226.2L313.6 226.1L313.3 227.5L311.4 227.5Z" fill="#000" stroke="#000" stroke-width="1.8" stroke-linejoin="round"/>
<ellipse cx="306.9" cy="232.4" rx="1.3" ry="2" fill="#000"/>
<path d="M318 231.6L320.8 227.6L325.9 224.8L332.6 222.8L335.9 224L331 225.4L325.9 227.8L320.8 230Z" fill="none" stroke="#000" stroke-width="2.1" stroke-linejoin="round"/>
<ellipse cx="295.8" cy="290" rx="1.6" ry="3.2" transform="rotate(-35 295.8 290)" fill="none" stroke="#000" stroke-width="1.6"/>
<ellipse cx="303.4" cy="296" rx="2.6" ry="1.7" fill="none" stroke="#000" stroke-width="1.6"/>
<ellipse cx="335.3" cy="302.4" rx="2.9" ry="1.7" fill="none" stroke="#000" stroke-width="1.6"/>
<ellipse cx="238.4" cy="314" rx="1.3" ry="2" fill="none" stroke="#000" stroke-width="1.5"/>
<ellipse cx="389.3" cy="329.5" rx="2.9" ry="3.3" fill="none" stroke="#000" stroke-width="1.8"/>
<ellipse cx="402.4" cy="331.8" rx="3.5" ry="2.2" transform="rotate(18 402.4 331.8)" fill="none" stroke="#000" stroke-width="1.8"/>
<ellipse cx="523.2" cy="314.3" rx="3" ry="2.2" transform="rotate(35 523.2 314.3)" fill="none" stroke="#000" stroke-width="1.8"/>
<circle cx="525.6" cy="337.9" r="1.6" fill="#000"/>
<ellipse cx="467.9" cy="355.5" rx="2.2" ry="1.7" fill="#000"/>
<circle cx="426.7" cy="381.2" r="1.6" fill="#000"/>
<circle cx="427.4" cy="386.5" r="1.5" fill="#000"/>
<circle cx="437.5" cy="383.2" r="1.5" fill="#000"/>
<path d="M652.4 356L658.4 362" stroke="#000" stroke-width="2"/>

<text x="734.8" y="1053.2" font-size="10.5">©Sub Bidang Prediksi Cuaca BMKG, 2026</text>
</g>

<!-- legend -->
<g>
<rect x="69.6" y="877.6" width="296.8" height="171.6" rx="3" ry="3" fill="#fff" fill-opacity="0.8" stroke="#ccc" stroke-opacity="0.8" stroke-width="2.9"/>
<text x="217.1" y="905.7" font-size="20.8" text-anchor="middle">LEGENDA</text>
<rect x="81.9" y="916.8" width="30.2" height="12" fill="#bbb"/>
<rect x="81.9" y="937.9" width="30.2" height="12" fill="#00ff00"/>
<rect x="81.9" y="958.9" width="30.2" height="12" fill="#ffff00"/>
<rect x="81.9" y="979.9" width="30.2" height="12" fill="#ff9900"/>
<rect x="81.9" y="1000.9" width="30.2" height="12" fill="#f50000"/>
<rect x="81.9" y="1021.9" width="30.2" height="12" fill="#ee11bb"/>
<g font-size="13.85">
<text x="122.3" y="927.9">Berawan / Tidak Hujan</text>
<text x="122.3" y="948.7">Hujan Ringan : 0.1 - 5 mm/jam</text>
<text x="122.3" y="969.6">Hujan Sedang : 5 - 10 mm/jam</text>
<text x="122.3" y="990.5">Hujan Lebat : 10 - 20 mm/jam</text>
<text x="122.3" y="1011.4">Hujan Sangat Lebat : 20 - 50 mm/jam</text>
<text x="122.3" y="1032.3">Hujan Ekstrem : &gt;50 mm/jam</text>
</g>
</g>

<!-- frame -->
<rect x="62.5" y="132.5" width="871" height="924" fill="none" stroke="#000" stroke-width="3"/>
<text x="52.6" y="356.7" font-size="17.2" text-anchor="end">6°S</text>
<text x="661.8" y="1078.9" font-size="17.2" text-anchor="middle">107°E</text>

<!-- footer -->
<text x="62.3" y="1100.7" font-size="17.5">Model: WRF 10 KM</text>
<text x="933" y="1100.8" font-size="17.5" text-anchor="end">Sumber: CIPS BMKG</text>

<!-- colorbar -->
<g>
<rect x="970" y="224" width="20" height="37" fill="#e61ab4"/>
<rect x="970" y="260.4" width="20" height="64" fill="#ee2820"/>
<rect x="970" y="324.4" width="20" height="64" fill="#ea6622"/>
<rect x="970" y="388.4" width="20" height="64" fill="#ee8a22"/>
<rect x="970" y="452.4" width="20" height="64" fill="#eaa820"/>
<rect x="970" y="516.4" width="20" height="64" fill="#f0d21e"/>
<rect x="970" y="580.4" width="20" height="64" fill="#f5f522"/>
<rect x="970" y="644.4" width="20" height="64" fill="#a6ea20"/>
<rect x="970" y="708.4" width="20" height="64" fill="#66f020"/>
<rect x="970" y="772.4" width="20" height="64" fill="#88f088"/>
<rect x="970" y="836.4" width="20" height="64" fill="#c0f0c0"/>
<rect x="970" y="900.4" width="20" height="64" fill="#e6e6e6"/>
<rect x="970.4" y="224.6" width="19.1" height="739.8" fill="none" stroke="#000" stroke-width="2.8"/>
<g stroke="#000" stroke-width="2.6">
<line x1="990" y1="260.4" x2="1001.5" y2="260.4"/>
<line x1="990" y1="324.4" x2="1001.5" y2="324.4"/>
<line x1="990" y1="388.4" x2="1001.5" y2="388.4"/>
<line x1="990" y1="452.4" x2="1001.5" y2="452.4"/>
<line x1="990" y1="516.4" x2="1001.5" y2="516.4"/>
<line x1="990" y1="580.4" x2="1001.5" y2="580.4"/>
<line x1="990" y1="644.4" x2="1001.5" y2="644.4"/>
<line x1="990" y1="708.4" x2="1001.5" y2="708.4"/>
<line x1="990" y1="772.4" x2="1001.5" y2="772.4"/>
<line x1="990" y1="836.4" x2="1001.5" y2="836.4"/>
<line x1="990" y1="900.4" x2="1001.5" y2="900.4"/>
<line x1="990" y1="964.4" x2="1001.5" y2="964.4"/>
</g>
<g font-size="16">
<text x="1014.5" y="266.7">50.0</text>
<text x="1014.5" y="330.7">20.0</text>
<text x="1014.5" y="394.7">17.0</text>
<text x="1014.5" y="458.7">14.0</text>
<text x="1014.5" y="522.7">10.0</text>
<text x="1014.5" y="586.7">7.0</text>
<text x="1014.5" y="650.7">5.0</text>
<text x="1014.5" y="714.7">3.0</text>
<text x="1014.5" y="778.7">1.0</text>
<text x="1014.5" y="842.7">0.5</text>
<text x="1014.5" y="906.7">0.1</text>
<text x="1014.5" y="970.6">0.0</text>
</g>
</g>
</svg>
</body></html>
